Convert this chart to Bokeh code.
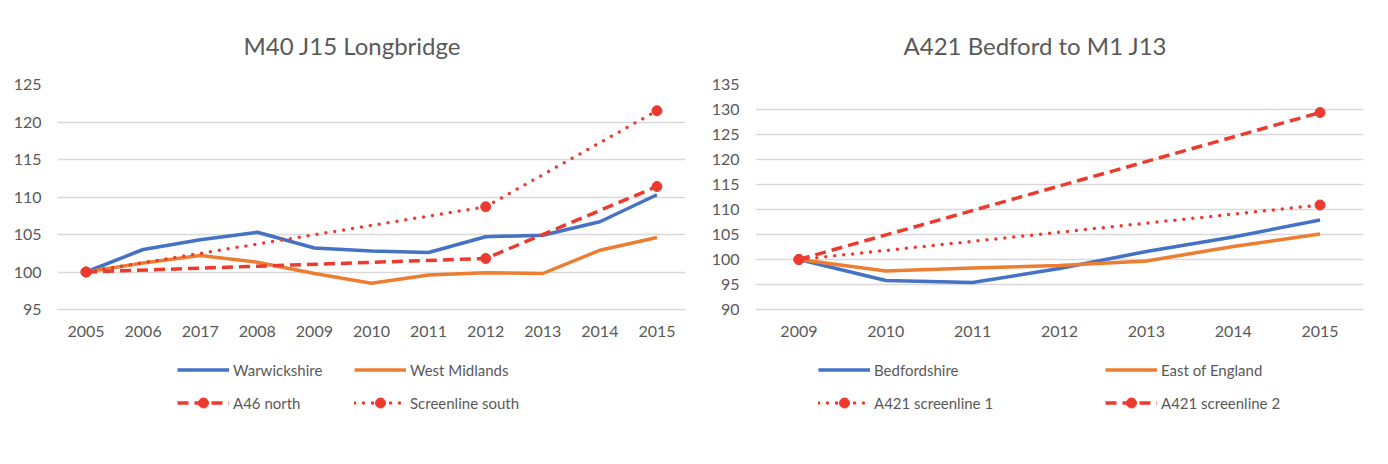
from bokeh.plotting import figure
from bokeh.layouts import row, column
from bokeh.models import Range1d, FactorRange, Legend, LegendItem, FixedTicker, ColumnDataSource
from bokeh.embed import file_html
from bokeh.resources import INLINE

# ---------------- data ----------------
left_title = "M40 J15 Longbridge"
left_years = ["2005", "2006", "2017", "2008", "2009", "2010", "2011", "2012", "2013", "2014", "2015"]
warwickshire = [100, 103.0, 104.3, 105.3, 103.2, 102.8, 102.6, 104.7, 104.9, 106.7, 110.3]
west_midlands = [100, 101.2, 102.2, 101.3, 99.8, 98.5, 99.6, 99.9, 99.8, 102.9, 104.6]
left_point_years = ["2005", "2012", "2015"]
a46_north = [100, 101.8, 111.4]
screenline_south = [100, 108.7, 121.5]
left_ticks = [95, 100, 105, 110, 115, 120, 125]
left_names = ["Warwickshire", "West Midlands", "A46 north", "Screenline south"]

right_title = "A421 Bedford to M1 J13"
right_years = ["2009", "2010", "2011", "2012", "2013", "2014", "2015"]
bedfordshire = [100, 95.8, 95.4, 98.2, 101.6, 104.5, 107.9]
east_of_england = [100, 97.7, 98.3, 98.8, 99.7, 102.6, 105.1]
right_point_years = ["2009", "2015"]
a421_screenline_1 = [100, 110.9]
a421_screenline_2 = [100, 129.4]
right_ticks = [90, 95, 100, 105, 110, 115, 120, 125, 130, 135]
right_names = ["Bedfordshire", "East of England", "A421 screenline 1", "A421 screenline 2"]

BLUE = "#4472C4"
ORANGE = "#ED7D31"
RED = "#EC3A2E"
GREY_TXT = "#595959"
GRID = "#D9D9D9"
FONT = "Lato"

SOLID = dict(line_width=3.5, line_join="round")
DASHED = dict(line_color=RED, line_width=3.5, line_dash="11 6")
DOTTED = dict(line_color=RED, line_width=3.5, line_dash="0 9", line_cap="round")
MARKER = dict(size=10, fill_color=RED, line_color=RED)


def make_fig(title, years, ymin, ymax, ticks, width, border_left, border_right, title_offset):
    p = figure(width=width, height=345, x_range=FactorRange(*years, range_padding=0),
               y_range=Range1d(ymin, ymax), output_backend="svg", toolbar_location=None,
               min_border_left=border_left, min_border_right=border_right,
               min_border_top=84, min_border_bottom=36, title=title)
    p.title.text_font = FONT
    p.title.text_font_size = "24px"
    p.title.text_font_style = "normal"
    p.title.text_color = GREY_TXT
    p.title.align = "left"
    p.title.offset = title_offset
    p.title.standoff = 49
    p.outline_line_color = None
    p.xgrid.grid_line_color = None
    p.ygrid.grid_line_color = GRID
    p.ygrid.grid_line_width = 1.3
    p.yaxis.ticker = FixedTicker(ticks=ticks)
    for ax in (p.xaxis[0], p.yaxis[0]):
        ax.major_tick_line_color = None
        ax.minor_tick_line_color = None
        ax.major_label_text_font = FONT
        ax.major_label_text_font_size = "16px"
        ax.major_label_text_color = GREY_TXT
    p.yaxis.axis_line_color = None
    p.yaxis.major_label_standoff = 10
    p.xaxis.axis_line_color = GRID
    p.xaxis.axis_line_width = 1.3
    p.xaxis.major_label_standoff = 10
    return p


def add_series(p, xs_full, solid1, solid2, pts_x, dashed, dotted):
    p.line(xs_full, solid1, line_color=BLUE, **SOLID)
    p.line(xs_full, solid2, line_color=ORANGE, **SOLID)
    src_d = ColumnDataSource(dict(x=pts_x, y=dashed))
    src_o = ColumnDataSource(dict(x=pts_x, y=dotted))
    p.line("x", "y", source=src_d, **DASHED)
    p.scatter("x", "y", source=src_d, **MARKER)
    p.line("x", "y", source=src_o, **DOTTED)
    p.scatter("x", "y", source=src_o, **MARKER)


def legend_fig(width, names, styles, loc, label_width):
    # a strip that only carries the legend; its renderers sit outside the visible range
    lf = figure(width=width, height=115, x_range=Range1d(0, 1), y_range=Range1d(0, 1),
                x_axis_type=None, y_axis_type=None, output_backend="svg", toolbar_location=None,
                min_border=0, outline_line_color=None)
    items = []
    for name, style in zip(names, styles):
        src = ColumnDataSource(dict(x=[-10, -9], y=[-10, -9]))
        if style == "blue":
            rs = [lf.line("x", "y", source=src, line_color=BLUE, **SOLID)]
        elif style == "orange":
            rs = [lf.line("x", "y", source=src, line_color=ORANGE, **SOLID)]
        elif style == "dashed":
            rs = [lf.line("x", "y", source=src, **DASHED), lf.scatter("x", "y", source=src, **MARKER)]
        else:
            rs = [lf.line("x", "y", source=src, **DOTTED), lf.scatter("x", "y", source=src, **MARKER)]
        items.append(LegendItem(label=name, renderers=rs))
    lg = Legend(items=items, location=loc, orientation="horizontal", nrows=2,
                glyph_width=52, glyph_height=25, label_standoff=4, spacing=8,
                label_width=label_width, padding=5, margin=0,
                label_text_font=FONT, label_text_font_size="15px", label_text_color=GREY_TXT,
                border_line_color=None, background_fill_alpha=0)
    lf.add_layout(lg)
    return lf


# ---------------- left chart ----------------
p1 = make_fig(left_title, left_years, 95, 125, left_ticks, 690, 57, 5, 186)
add_series(p1, left_years, warwickshire, west_midlands, left_point_years, a46_north, screenline_south)
l1 = legend_fig(690, left_names, ["blue", "orange", "dashed", "dotted"], (177, 45), 113)

# ---------------- right chart ----------------
p2 = make_fig(right_title, right_years, 90, 135, right_ticks, 698, 65, 25, 148)
add_series(p2, right_years, bedfordshire, east_of_england, right_point_years,
           a421_screenline_2, a421_screenline_1)
l2 = legend_fig(698, right_names, ["blue", "orange", "dotted", "dashed"], (128, 45), 223)

layout = column(row(p1, p2), row(l1, l2))
open("out.html", "w").write(file_html(layout, INLINE))
